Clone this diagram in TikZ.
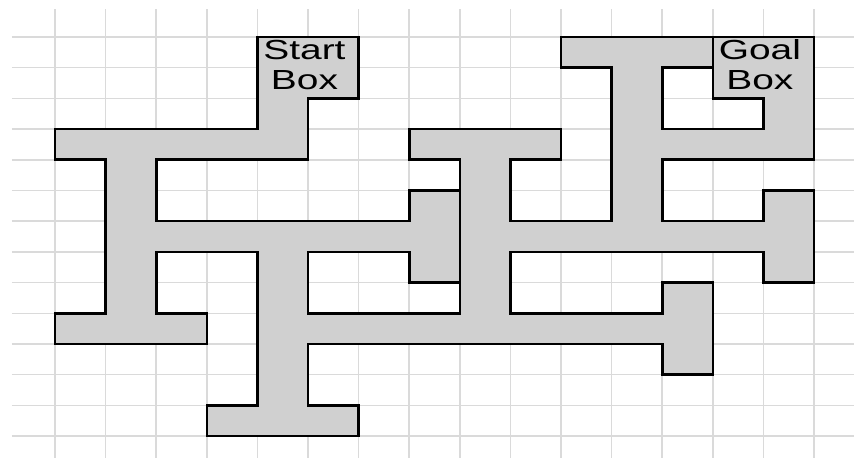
\documentclass[tikz,border=0pt]{standalone}
\usepackage{fontspec}
\setmainfont{Liberation Sans}
\usepackage{graphicx}
\usepackage{tikz}
\definecolor{MazeFill}{HTML}{D0D0D0}
\definecolor{MazeGrid}{HTML}{DADADA}
\newcommand{\widetext}[1]{\scalebox{1.41}[1]{#1}}

\begin{document}
\begin{tikzpicture}[
    x=25.3pt, y=-15.35pt,
    gridline/.style={MazeGrid, line width=0.75pt},
    corridor/.style={draw=black, fill=MazeFill, line width=1.3pt, line join=miter},
    boxlabel/.style={inner sep=0pt, align=center, font=\fontsize{13.8}{15}\selectfont}
]
\useasboundingbox (-1.087,-1.2052) rectangle (15.7905,13.7134);

% Grid
\foreach \j in {0,...,13} \draw[gridline] (-0.85,\j) -- (15.7905,\j);
\foreach \i in {0,...,15} \draw[gridline] (\i,-0.91) -- (\i,13.7134);

% Maze
\draw[corridor] (4,0) -- (6,0) -- (6,2) -- (5,2) -- (5,4) -- (2,4) -- (2,6)
  -- (7,6) -- (7,5) -- (8,5) -- (8,8) -- (7,8) -- (7,7) -- (5,7) -- (5,9)
  -- (8,9) -- (8,4) -- (7,4) -- (7,3) -- (10,3) -- (10,4) -- (9,4) -- (9,6)
  -- (11,6) -- (11,1) -- (10,1) -- (10,0) -- (13,0) -- (13,1) -- (12,1)
  -- (12,3) -- (14,3) -- (14,2) -- (13,2) -- (13,0) -- (15,0) -- (15,4)
  -- (12,4) -- (12,6) -- (14,6) -- (14,5) -- (15,5) -- (15,8) -- (14,8)
  -- (14,7) -- (9,7) -- (9,9) -- (12,9) -- (12,8) -- (13,8) -- (13,11)
  -- (12,11) -- (12,10) -- (5,10) -- (5,12) -- (6,12) -- (6,13) -- (3,13)
  -- (3,12) -- (4,12) -- (4,7) -- (2,7) -- (2,9) -- (3,9) -- (3,10)
  -- (0,10) -- (0,9) -- (1,9) -- (1,4) -- (0,4) -- (0,3) -- (4,3) -- cycle;

% Nodes
\node[boxlabel] (start) at (4.93,0.9) {\widetext{Start}\\\widetext{Box}};
\node[boxlabel] (goal) at (13.93,0.9) {\widetext{Goal}\\\widetext{Box}};

\end{tikzpicture}
\end{document}
